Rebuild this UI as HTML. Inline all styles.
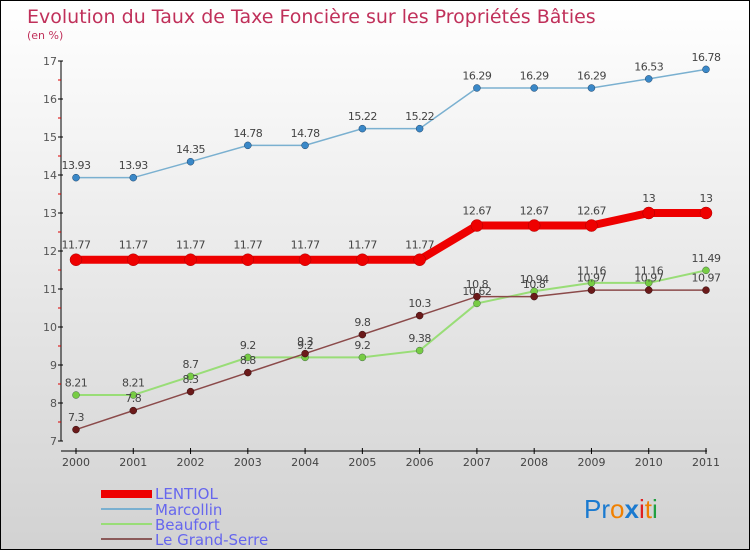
<!DOCTYPE html>
<html><head><meta charset="utf-8"><style>
body{margin:0}
#c{width:748px;height:548px;border:1px solid #000;background:linear-gradient(#fff,#d2d2d2);position:relative;font-family:"DejaVu Sans","Liberation Sans",sans-serif;overflow:hidden}
</style></head><body>
<div id="c">
<svg id="s" width="748" height="548" xmlns="http://www.w3.org/2000/svg">
<text x="26" y="22" font-size="19" fill="#c0305a">Evolution du Taux de Taxe Foncière sur les Propriétés Bâties</text>
<text x="26" y="38" font-size="11" fill="#c0305a">(en %)</text>
<g id="axes"></g><g id="series"></g>
<g>
<rect x="100" y="489" width="51" height="8" fill="#e00"/>
<text x="154" y="498" font-size="15" fill="#6666ee">LENTIOL</text>
<rect x="100" y="507" width="51" height="2" fill="#7ab0d0"/>
<text x="154" y="514" font-size="15" fill="#6666ee">Marcollin</text>
<rect x="100" y="522" width="51" height="2" fill="#99dd77"/>
<text x="154" y="529" font-size="15" fill="#6666ee">Beaufort</text>
<rect x="100" y="537" width="51" height="2" fill="#8b5a5a"/>
<text x="154" y="544" font-size="15" fill="#6666ee">Le Grand-Serre</text>
</g>
<g font-size="26" font-family="Liberation Sans,sans-serif">
<text x="583" y="517"><tspan fill="#1a7ad0">Pr</tspan><tspan fill="#f08000">o</tspan><tspan fill="#1a7ad0" font-weight="bold">x</tspan><tspan fill="#e02020">i</tspan><tspan fill="#f08000">t</tspan><tspan fill="#20a040">i</tspan></text>
</g>
</svg></div>
<script>
const years=[2000,2001,2002,2003,2004,2005,2006,2007,2008,2009,2010,2011];
const yTicks=[7,8,9,10,11,12,13,14,15,16,17];
const lentiol=[11.77,11.77,11.77,11.77,11.77,11.77,11.77,12.67,12.67,12.67,13,13];
const marcollin=[13.93,13.93,14.35,14.78,14.78,15.22,15.22,16.29,16.29,16.29,16.53,16.78];
const beaufort=[8.21,8.21,8.7,9.2,9.2,9.2,9.38,10.62,10.94,11.16,11.16,11.49];
const grandSerre=[7.3,7.8,8.3,8.8,9.3,9.8,10.3,10.8,10.8,10.97,10.97,10.97];
const NS="http://www.w3.org/2000/svg";
const X=i=>75+i*(630/(years.length-1));
const Y=v=>60+(17-v)*38;
function mk(t,a,p){const e=document.createElementNS(NS,t);for(const k in a)e.setAttribute(k,a[k]);p.appendChild(e);return e;}
const ax=document.getElementById('axes');
let l=mk('line',{x1:60,y1:Y(17),x2:60,y2:Y(7),stroke:'#000'},ax);


l=mk('line',{x1:60,y1:450,x2:706,y2:450,stroke:'#000'},ax);


yTicks.forEach(v=>{
 mk('line',{x1:57,y1:Y(v),x2:62,y2:Y(v),stroke:'#000'},ax);
 if(v<17)mk('line',{x1:57,y1:Y(v+0.5),x2:60,y2:Y(v+0.5),stroke:'#d00'},ax);
 const t=mk('text',{x:56,y:Y(v)+4,'font-size':11,fill:'#555','text-anchor':'end'},ax);t.textContent=v;
 
 
});
years.forEach((y,i)=>{
 mk('line',{x1:X(i),y1:447,x2:X(i),y2:453,stroke:'#000'},ax);
 const t=mk('text',{x:X(i),y:465,'font-size':11,fill:'#444','text-anchor':'middle'},ax);t.textContent=y;
 
 
});
const sg=document.getElementById('series');
function series(data,name,color,w,r,dot,lab){
 const g=mk('g',{},sg);
 
 
 mk('polyline',{points:data.map((v,i)=>X(i)+','+Y(v)).join(' '),fill:'none',stroke:color,'stroke-width':w},g);
 data.forEach((v,i)=>{
  const c=mk('circle',{cx:X(i),cy:Y(v),r:r,fill:dot,stroke:lab,'stroke-width':0.5},g);
  
  
  const t=mk('text',{x:X(i),y:Y(v)-(r+5),'font-size':11,fill:'#444','text-anchor':'middle','letter-spacing':'-0.5'},g);
  t.textContent=String(v);
  
  
 });
}
series(marcollin,'marcollin','#7ab0d0',1.5,3.5,'#3a88c8','#246');
series(beaufort,'beaufort','#99dd77',2,3.5,'#77cc44','#464');
series(grandSerre,'grand-serre','#8b4a4a',1.5,3.5,'#6b1a1a','#311');
series(lentiol,'lentiol','#ee0000',8,6,'#ee0000','#a00');
</script>
</body></html>
